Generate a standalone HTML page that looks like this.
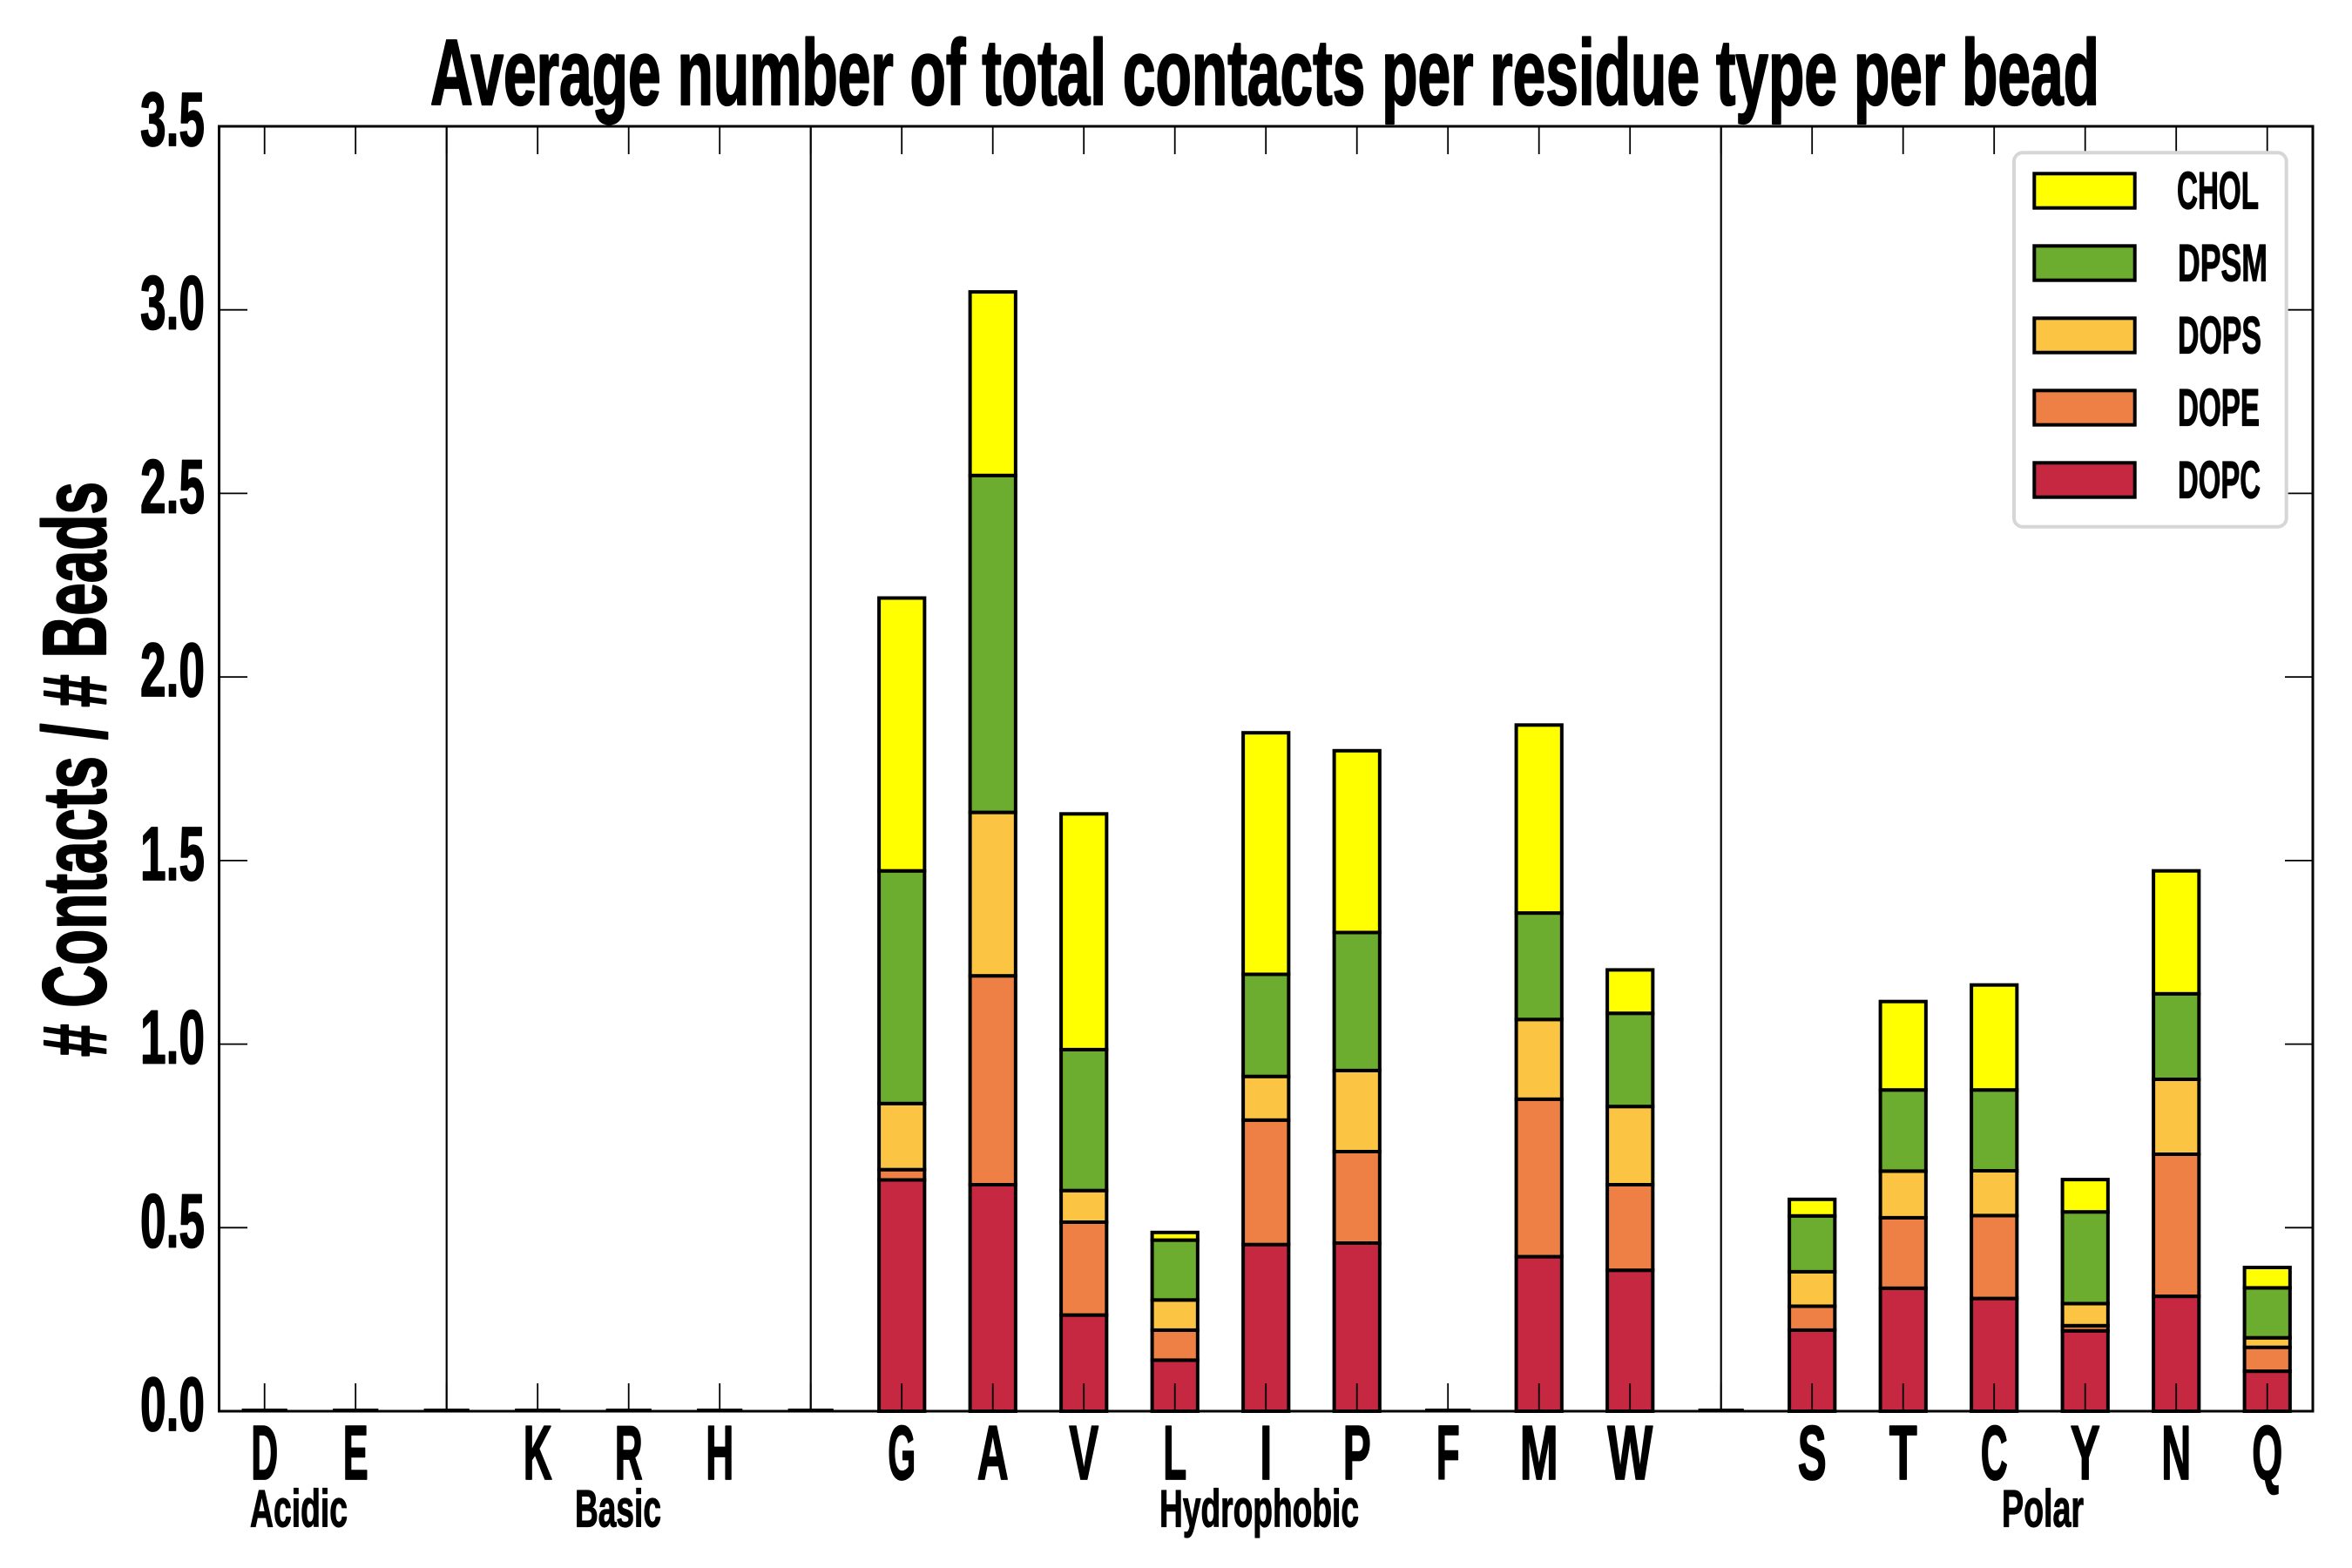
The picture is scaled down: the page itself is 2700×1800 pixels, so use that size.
<!DOCTYPE html>
<html>
<head>
<meta charset="utf-8">
<style>
  html, body { margin: 0; padding: 0; background: #ffffff; }
  svg { display: block; }
  text { font-family: "Liberation Sans Narrow", "Liberation Sans", Arial, sans-serif; font-weight: bold; fill: #000; stroke: #000; stroke-linejoin: round; }
</style>
</head>
<body>
<svg xmlns="http://www.w3.org/2000/svg" width="2700" height="1800" viewBox="0 0 2700 1800">
  <rect x="0" y="0" width="2700" height="1800" fill="#ffffff"/>

  <!-- Title -->
  <text x="494" y="120" font-size="107" stroke-width="2.2" textLength="1916" lengthAdjust="spacingAndGlyphs">Average number of total contacts per residue type per bead</text>

  <!-- Bars: DOPC -->
  <g stroke="#000" stroke-width="4" fill="#c62842">
    <rect x="1009.1" y="1354.5" width="52.25" height="265.5"/>
    <rect x="1113.6" y="1360.0" width="52.25" height="260.0"/>
    <rect x="1218.1" y="1509.6" width="52.25" height="110.4"/>
    <rect x="1322.6" y="1561.4" width="52.25" height="58.6"/>
    <rect x="1427.1" y="1428.7" width="52.25" height="191.3"/>
    <rect x="1531.6" y="1427.0" width="52.25" height="193.0"/>
    <rect x="1740.6" y="1442.6" width="52.25" height="177.4"/>
    <rect x="1845.1" y="1458.2" width="52.25" height="161.8"/>
    <rect x="2054.1" y="1526.9" width="52.25" height="93.1"/>
    <rect x="2158.6" y="1478.8" width="52.25" height="141.2"/>
    <rect x="2263.1" y="1490.6" width="52.25" height="129.4"/>
    <rect x="2367.6" y="1527.7" width="52.25" height="92.3"/>
    <rect x="2472.1" y="1488.1" width="52.25" height="131.9"/>
    <rect x="2576.6" y="1574.1" width="52.25" height="45.9"/>
  </g>
  <!-- DOPE -->
  <g stroke="#000" stroke-width="4" fill="#ee8045">
    <rect x="1009.1" y="1342.7" width="52.25" height="11.8"/>
    <rect x="1113.6" y="1120.2" width="52.25" height="239.8"/>
    <rect x="1218.1" y="1403.0" width="52.25" height="106.6"/>
    <rect x="1322.6" y="1526.9" width="52.25" height="34.5"/>
    <rect x="1427.1" y="1285.8" width="52.25" height="142.9"/>
    <rect x="1531.6" y="1322.0" width="52.25" height="105.0"/>
    <rect x="1740.6" y="1261.8" width="52.25" height="180.8"/>
    <rect x="1845.1" y="1360.0" width="52.25" height="98.2"/>
    <rect x="2054.1" y="1499.5" width="52.25" height="27.4"/>
    <rect x="2158.6" y="1397.9" width="52.25" height="80.9"/>
    <rect x="2263.1" y="1395.4" width="52.25" height="95.2"/>
    <rect x="2367.6" y="1521.8" width="52.25" height="5.9"/>
    <rect x="2472.1" y="1325.0" width="52.25" height="163.1"/>
    <rect x="2576.6" y="1546.7" width="52.25" height="27.4"/>
  </g>
  <!-- DOPS -->
  <g stroke="#000" stroke-width="4" fill="#fbc543">
    <rect x="1009.1" y="1266.8" width="52.25" height="75.9"/>
    <rect x="1113.6" y="932.6" width="52.25" height="187.6"/>
    <rect x="1218.1" y="1366.7" width="52.25" height="36.3"/>
    <rect x="1322.6" y="1492.3" width="52.25" height="34.6"/>
    <rect x="1427.1" y="1235.7" width="52.25" height="50.1"/>
    <rect x="1531.6" y="1228.9" width="52.25" height="93.1"/>
    <rect x="1740.6" y="1170.3" width="52.25" height="91.5"/>
    <rect x="1845.1" y="1270.2" width="52.25" height="89.8"/>
    <rect x="2054.1" y="1459.9" width="52.25" height="39.6"/>
    <rect x="2158.6" y="1344.4" width="52.25" height="53.5"/>
    <rect x="2263.1" y="1344.0" width="52.25" height="51.4"/>
    <rect x="2367.6" y="1496.5" width="52.25" height="25.3"/>
    <rect x="2472.1" y="1239.0" width="52.25" height="86.0"/>
    <rect x="2576.6" y="1535.7" width="52.25" height="11.0"/>
  </g>
  <!-- DPSM -->
  <g stroke="#000" stroke-width="4" fill="#6cac2e">
    <rect x="1009.1" y="999.7" width="52.25" height="267.1"/>
    <rect x="1113.6" y="545.8" width="52.25" height="386.8"/>
    <rect x="1218.1" y="1204.9" width="52.25" height="161.8"/>
    <rect x="1322.6" y="1423.6" width="52.25" height="68.7"/>
    <rect x="1427.1" y="1118.5" width="52.25" height="117.2"/>
    <rect x="1531.6" y="1070.5" width="52.25" height="158.4"/>
    <rect x="1740.6" y="1048.1" width="52.25" height="122.2"/>
    <rect x="1845.1" y="1163.2" width="52.25" height="107.0"/>
    <rect x="2054.1" y="1395.8" width="52.25" height="64.1"/>
    <rect x="2158.6" y="1251.2" width="52.25" height="93.2"/>
    <rect x="2263.1" y="1251.2" width="52.25" height="92.8"/>
    <rect x="2367.6" y="1391.2" width="52.25" height="105.3"/>
    <rect x="2472.1" y="1140.8" width="52.25" height="98.2"/>
    <rect x="2576.6" y="1478.4" width="52.25" height="57.3"/>
  </g>
  <!-- CHOL -->
  <g stroke="#000" stroke-width="4" fill="#ffff00">
    <rect x="1009.1" y="686.5" width="52.25" height="313.2"/>
    <rect x="1113.6" y="335.1" width="52.25" height="210.7"/>
    <rect x="1218.1" y="934.3" width="52.25" height="270.6"/>
    <rect x="1322.6" y="1414.8" width="52.25" height="8.8"/>
    <rect x="1427.1" y="841.2" width="52.25" height="277.3"/>
    <rect x="1531.6" y="861.8" width="52.25" height="208.7"/>
    <rect x="1740.6" y="832.3" width="52.25" height="215.8"/>
    <rect x="1845.1" y="1113.4" width="52.25" height="49.8"/>
    <rect x="2054.1" y="1376.8" width="52.25" height="19.0"/>
    <rect x="2158.6" y="1149.7" width="52.25" height="101.5"/>
    <rect x="2263.1" y="1130.7" width="52.25" height="120.5"/>
    <rect x="2367.6" y="1354.1" width="52.25" height="37.1"/>
    <rect x="2472.1" y="999.7" width="52.25" height="141.1"/>
    <rect x="2576.6" y="1455.0" width="52.25" height="23.4"/>
  </g>

  <!-- Zero-height bars -->
  <g stroke="#000" stroke-width="4">
    <line x1="277.6" y1="1619" x2="329.8" y2="1619"/>
    <line x1="382.1" y1="1619" x2="434.3" y2="1619"/>
    <line x1="486.6" y1="1619" x2="538.8" y2="1619"/>
    <line x1="591.1" y1="1619" x2="643.3" y2="1619"/>
    <line x1="695.6" y1="1619" x2="747.8" y2="1619"/>
    <line x1="800.1" y1="1619" x2="852.3" y2="1619"/>
    <line x1="904.6" y1="1619" x2="956.8" y2="1619"/>
    <line x1="1636.1" y1="1619" x2="1688.3" y2="1619"/>
    <line x1="1949.6" y1="1619" x2="2001.8" y2="1619"/>
  </g>

  <!-- Separator lines -->
  <g stroke="#000" stroke-width="2.2">
    <line x1="512.7" y1="145" x2="512.7" y2="1620"/>
    <line x1="930.7" y1="145" x2="930.7" y2="1620"/>
    <line x1="1975.7" y1="145" x2="1975.7" y2="1620"/>
  </g>

  <!-- X ticks (bottom and top, inward) -->
  <g stroke="#000" stroke-width="1.8">
    <path d="M303.7 1620V1588 M408.2 1620V1588 M512.7 1620V1588 M617.2 1620V1588 M721.7 1620V1588 M826.2 1620V1588 M930.7 1620V1588 M1035.2 1620V1588 M1139.7 1620V1588 M1244.2 1620V1588 M1348.7 1620V1588 M1453.2 1620V1588 M1557.7 1620V1588 M1662.2 1620V1588 M1766.7 1620V1588 M1871.2 1620V1588 M1975.7 1620V1588 M2080.2 1620V1588 M2184.7 1620V1588 M2289.2 1620V1588 M2393.7 1620V1588 M2498.2 1620V1588 M2602.7 1620V1588"/>
    <path d="M303.7 145V177 M408.2 145V177 M512.7 145V177 M617.2 145V177 M721.7 145V177 M826.2 145V177 M930.7 145V177 M1035.2 145V177 M1139.7 145V177 M1244.2 145V177 M1348.7 145V177 M1453.2 145V177 M1557.7 145V177 M1662.2 145V177 M1766.7 145V177 M1871.2 145V177 M1975.7 145V177 M2080.2 145V177 M2184.7 145V177 M2289.2 145V177 M2393.7 145V177 M2498.2 145V177 M2602.7 145V177"/>
    <!-- Y ticks left & right -->
    <path d="M251.5 1409.3H284 M251.5 1198.6H284 M251.5 987.9H284 M251.5 777.1H284 M251.5 566.4H284 M251.5 355.7H284"/>
    <path d="M2655 1409.3H2623 M2655 1198.6H2623 M2655 987.9H2623 M2655 777.1H2623 M2655 566.4H2623 M2655 355.7H2623"/>
  </g>

  <!-- Spines -->
  <rect x="251.5" y="145" width="2403.5" height="1475" fill="none" stroke="#000" stroke-width="3"/>

  <!-- Y tick labels -->
  <g font-size="87" text-anchor="end" stroke-width="1.8">
    <text x="235" y="1642" textLength="74" lengthAdjust="spacingAndGlyphs">0.0</text>
    <text x="235" y="1431.3" textLength="74" lengthAdjust="spacingAndGlyphs">0.5</text>
    <text x="235" y="1220.6" textLength="74" lengthAdjust="spacingAndGlyphs">1.0</text>
    <text x="235" y="1009.9" textLength="74" lengthAdjust="spacingAndGlyphs">1.5</text>
    <text x="235" y="799.1" textLength="74" lengthAdjust="spacingAndGlyphs">2.0</text>
    <text x="235" y="588.4" textLength="74" lengthAdjust="spacingAndGlyphs">2.5</text>
    <text x="235" y="377.7" textLength="74" lengthAdjust="spacingAndGlyphs">3.0</text>
    <text x="235" y="167" textLength="74" lengthAdjust="spacingAndGlyphs">3.5</text>
  </g>

  <!-- X tick labels -->
  <g font-size="88" text-anchor="middle" stroke-width="1.8">
    <text x="303.7" y="1698" textLength="31" lengthAdjust="spacingAndGlyphs">D</text>
    <text x="408.2" y="1698" textLength="29" lengthAdjust="spacingAndGlyphs">E</text>
    <text x="617.2" y="1698" textLength="33" lengthAdjust="spacingAndGlyphs">K</text>
    <text x="721.7" y="1698" textLength="32" lengthAdjust="spacingAndGlyphs">R</text>
    <text x="826.2" y="1698" textLength="32" lengthAdjust="spacingAndGlyphs">H</text>
    <text x="1035.2" y="1698" textLength="32" lengthAdjust="spacingAndGlyphs">G</text>
    <text x="1139.7" y="1698" textLength="36" lengthAdjust="spacingAndGlyphs">A</text>
    <text x="1244.2" y="1698" textLength="34" lengthAdjust="spacingAndGlyphs">V</text>
    <text x="1348.7" y="1698" textLength="27" lengthAdjust="spacingAndGlyphs">L</text>
    <text x="1453.2" y="1698" textLength="14" lengthAdjust="spacingAndGlyphs">I</text>
    <text x="1557.7" y="1698" textLength="32" lengthAdjust="spacingAndGlyphs">P</text>
    <text x="1662.2" y="1698" textLength="27" lengthAdjust="spacingAndGlyphs">F</text>
    <text x="1766.7" y="1698" textLength="44" lengthAdjust="spacingAndGlyphs">M</text>
    <text x="1871.2" y="1698" textLength="52" lengthAdjust="spacingAndGlyphs">W</text>
    <text x="2080.2" y="1698" textLength="33" lengthAdjust="spacingAndGlyphs">S</text>
    <text x="2184.7" y="1698" textLength="32" lengthAdjust="spacingAndGlyphs">T</text>
    <text x="2289.2" y="1698" textLength="31" lengthAdjust="spacingAndGlyphs">C</text>
    <text x="2393.7" y="1698" textLength="34" lengthAdjust="spacingAndGlyphs">Y</text>
    <text x="2498.2" y="1698" textLength="34" lengthAdjust="spacingAndGlyphs">N</text>
    <text x="2602.7" y="1698" textLength="35" lengthAdjust="spacingAndGlyphs">Q</text>
  </g>

  <!-- Category labels -->
  <g font-size="60" stroke-width="1.2">
    <text x="287" y="1752.7" textLength="112" lengthAdjust="spacingAndGlyphs">Acidic</text>
    <text x="660" y="1752.7" textLength="99" lengthAdjust="spacingAndGlyphs">Basic</text>
    <text x="1331" y="1752.7" textLength="229" lengthAdjust="spacingAndGlyphs">Hydrophobic</text>
    <text x="2298" y="1752.7" textLength="94" lengthAdjust="spacingAndGlyphs">Polar</text>
  </g>

  <!-- Y axis label -->
  <text transform="translate(121,883) rotate(-90)" font-size="103" stroke-width="2.2" text-anchor="middle" textLength="660" lengthAdjust="spacingAndGlyphs"># Contacts / # Beads</text>

  <!-- Legend -->
  <rect x="2312" y="175.3" width="312.7" height="429.4" rx="10" ry="10" fill="#ffffff" fill-opacity="0.8" stroke="#d6d6d6" stroke-width="4"/>
  <g stroke="#000" stroke-width="4">
    <rect x="2335.3" y="199.3" width="115.4" height="39.4" fill="#ffff00"/>
    <rect x="2335.3" y="282.3" width="115.4" height="39.4" fill="#6cac2e"/>
    <rect x="2335.3" y="365.3" width="115.4" height="39.4" fill="#fbc543"/>
    <rect x="2335.3" y="448.3" width="115.4" height="39.4" fill="#ee8045"/>
    <rect x="2335.3" y="531.3" width="115.4" height="39.4" fill="#c62842"/>
  </g>
  <g font-size="60" stroke-width="1.2">
    <text x="2499" y="239.3" textLength="94" lengthAdjust="spacingAndGlyphs">CHOL</text>
    <text x="2500" y="322.3" textLength="103" lengthAdjust="spacingAndGlyphs">DPSM</text>
    <text x="2500" y="405.3" textLength="96" lengthAdjust="spacingAndGlyphs">DOPS</text>
    <text x="2500" y="488.3" textLength="94" lengthAdjust="spacingAndGlyphs">DOPE</text>
    <text x="2500" y="571.3" textLength="95" lengthAdjust="spacingAndGlyphs">DOPC</text>
  </g>
</svg>
</body>
</html>
